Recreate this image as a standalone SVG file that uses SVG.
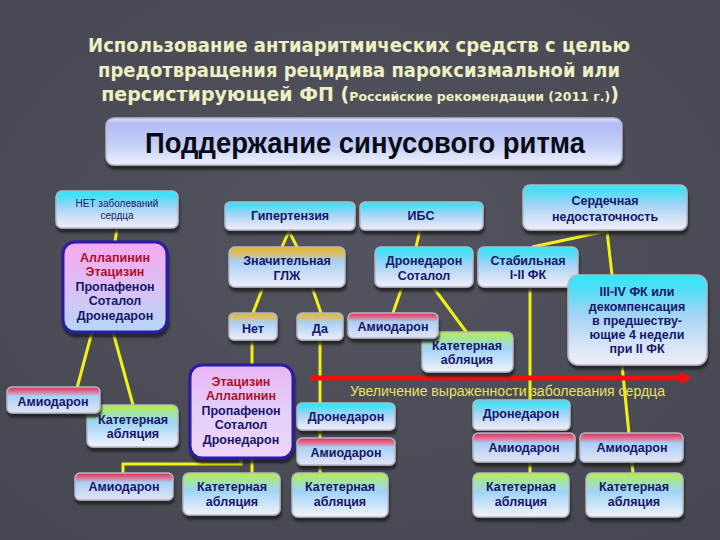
<svg xmlns="http://www.w3.org/2000/svg" width="720" height="540" viewBox="0 0 720 540">
<defs>
<radialGradient id="bg" cx="0.5" cy="0.45" r="0.75">
<stop offset="0" stop-color="#52545f"/>
<stop offset="1" stop-color="#45464f"/>
</radialGradient>
<linearGradient id="gMain" x1="0" y1="0" x2="0" y2="1">
<stop offset="0" stop-color="#dce2fc"/>
<stop offset="0.12" stop-color="#b2bcf4"/>
<stop offset="0.6" stop-color="#c6d0f8"/>
<stop offset="1" stop-color="#eef2fc"/>
</linearGradient>
<linearGradient id="gCyan" x1="0" y1="0" x2="0" y2="1">
<stop offset="0" stop-color="#30e6f8"/>
<stop offset="0.15" stop-color="#50def6"/>
<stop offset="0.45" stop-color="#a4d4f4"/>
<stop offset="0.8" stop-color="#dae4f6"/>
<stop offset="1" stop-color="#eeeefa"/>
</linearGradient>
<linearGradient id="gOrange" x1="0" y1="0" x2="0" y2="1">
<stop offset="0" stop-color="#e8b434"/>
<stop offset="0.18" stop-color="#d8c070"/>
<stop offset="0.35" stop-color="#a8d0f4"/>
<stop offset="0.8" stop-color="#dae4f6"/>
<stop offset="1" stop-color="#eeeefa"/>
</linearGradient>
<linearGradient id="gRed" x1="0" y1="0" x2="0" y2="1">
<stop offset="0" stop-color="#e02c5c"/>
<stop offset="0.18" stop-color="#e07090"/>
<stop offset="0.35" stop-color="#a8d0f6"/>
<stop offset="1" stop-color="#e4e4f4"/>
</linearGradient>
<linearGradient id="gGreen" x1="0" y1="0" x2="0" y2="1">
<stop offset="0" stop-color="#b8f040"/>
<stop offset="0.18" stop-color="#a4e49c"/>
<stop offset="0.42" stop-color="#a0d4f6"/>
<stop offset="1" stop-color="#f2f2fa"/>
</linearGradient>
<linearGradient id="gPurple" x1="0" y1="0" x2="0" y2="1">
<stop offset="0" stop-color="#f6a8ee"/>
<stop offset="0.5" stop-color="#dcc0f4"/>
<stop offset="1" stop-color="#b4d6f8"/>
</linearGradient>
<linearGradient id="gPurple2" x1="0" y1="0" x2="0" y2="1">
<stop offset="0" stop-color="#e8b4f4"/>
<stop offset="0.5" stop-color="#e4d0f8"/>
<stop offset="1" stop-color="#f0d4f8"/>
</linearGradient>
<filter id="sh" x="-10%" y="-10%" width="120%" height="140%">
<feDropShadow dx="1" dy="4" stdDeviation="1" flood-color="#1c1d24" flood-opacity="0.85"/>
</filter>
<marker id="arr" viewBox="0 0 10 10" refX="2" refY="5" markerWidth="3.4" markerHeight="2.6" orient="auto" markerUnits="strokeWidth">
<path d="M0,0 L10,5 L0,10 z" fill="#f01010"/>
</marker>
</defs>
<style>
.title{font-family:"DejaVu Sans","Liberation Sans",sans-serif;font-weight:bold;fill:#efefc4;font-size:19px}
.box{stroke:#b4b8c8;stroke-width:1.5;filter:url(#sh)}
.pbox{stroke:#2a1aa8;stroke-width:3;filter:url(#sh)}
.t{font-family:"Liberation Sans",Arial,sans-serif;font-weight:bold;font-size:12.5px;fill:#16166c;text-anchor:middle}
.tr{fill:#b0102c}
.small{font-family:"Liberation Sans",Arial,sans-serif;font-size:10px;fill:#16166c;text-anchor:middle}
.con{fill:none;stroke:#f2f014;stroke-width:3}
</style>
<rect width="720" height="540" fill="url(#bg)"/>

<g id="title">
<text class="title" x="88" y="52" textLength="542" lengthAdjust="spacingAndGlyphs">Использование антиаритмических средств с целью</text>
<text class="title" x="98" y="77" textLength="522" lengthAdjust="spacingAndGlyphs">предотвращения рецидива пароксизмальной или</text>
<text class="title" x="360" y="101" text-anchor="middle">персистирующей ФП (<tspan font-size="12.5">Российские рекомендации (2011 г.)</tspan>)</text>
</g>

<g id="connectors">
<path class="con" d="M117,228 L115,242"/>
<path class="con" d="M92,332 L77,388"/>
<path class="con" d="M113,332 L133,405"/>
<path class="con" d="M282,247 L289,231 L297,247"/>
<path class="con" d="M263,287 L253,313"/>
<path class="con" d="M312,287 L321,313"/>
<path class="con" d="M420,230 L416,247"/>
<path class="con" d="M402,287 L393,313"/>
<path class="con" d="M433,287 L467,333"/>
<path class="con" d="M607,231 L532,247"/>
<path class="con" d="M607,231 L612,275"/>
<path class="con" d="M530,287 L530,473"/>
<path class="con" d="M622,365 L633,473"/>
<path class="con" d="M252,340 L252,365"/>
<path class="con" d="M320,340 L320,473"/>
<path class="con" d="M241,458 L241,464 L123,464 L123,473"/>
<path class="con" d="M252,458 L252,473"/>
</g>

<g id="severity-arrow">
<line x1="310" y1="378" x2="682" y2="378" stroke="#f01010" stroke-width="5" marker-end="url(#arr)"/>
<text x="350" y="396" font-family="'Liberation Sans',Arial,sans-serif" font-size="14" fill="#e6e45c" textLength="315" lengthAdjust="spacingAndGlyphs">Увеличение выраженности заболевания сердца</text>
</g>

<g id="main">
<rect class="box" x="106" y="118" width="516" height="47" rx="8" fill="url(#gMain)"/>
<text x="145" y="153" font-family="'Liberation Sans',Arial,sans-serif" font-weight="bold" font-size="29" fill="#0a0a14" textLength="440" lengthAdjust="spacingAndGlyphs">Поддержание синусового ритма</text>
</g>

<g id="no-disease">
<rect class="box" x="56" y="191" width="122" height="37" rx="6" fill="url(#gCyan)"/>
<text class="small" x="117" y="207">НЕТ заболеваний</text>
<text class="small" x="117" y="219">сердца</text>
</g>

<g id="drugs1">
<rect class="pbox" x="63" y="242" width="104" height="90" rx="12" fill="url(#gPurple)"/>
<text class="t tr" x="115" y="262">Аллапинин</text>
<text class="t tr" x="115" y="276">Этацизин</text>
<text class="t" x="115" y="291">Пропафенон</text>
<text class="t" x="115" y="305">Соталол</text>
<text class="t" x="115" y="320">Дронедарон</text>
</g>

<g id="hypertension">
<rect class="box" x="225" y="202" width="130" height="28" rx="5" fill="url(#gCyan)"/>
<text class="t" x="290" y="220">Гипертензия</text>
</g>

<g id="ibs">
<rect class="box" x="360" y="202" width="123" height="28" rx="5" fill="url(#gCyan)"/>
<text class="t" x="421" y="220">ИБС</text>
</g>

<g id="heart-failure">
<rect class="box" x="523" y="185" width="164" height="45" rx="7" fill="url(#gCyan)"/>
<text class="t" x="605" y="205">Сердечная</text>
<text class="t" x="605" y="221">недостаточность</text>
</g>

<g id="lvh">
<rect class="box" x="229" y="247" width="116" height="40" rx="6" fill="url(#gOrange)"/>
<text class="t" x="287" y="265">Значительная</text>
<text class="t" x="287" y="280">ГЛЖ</text>
</g>

<g id="dron-sot">
<rect class="box" x="375" y="247" width="98" height="40" rx="6" fill="url(#gCyan)"/>
<text class="t" x="424" y="265">Дронедарон</text>
<text class="t" x="424" y="280">Соталол</text>
</g>

<g id="stable">
<rect class="box" x="478" y="247" width="100" height="40" rx="6" fill="url(#gCyan)"/>
<text class="t" x="528" y="265">Стабильная</text>
<text class="t" x="528" y="279">I-II ФК</text>
</g>

<g id="fc34">
<rect class="box" x="568" y="275" width="139" height="90" rx="10" fill="url(#gCyan)"/>
<text class="t" x="637" y="296">III-IV ФК или</text>
<text class="t" x="637" y="311">декомпенсация</text>
<text class="t" x="637" y="325">в предшеству-</text>
<text class="t" x="637" y="339">ющие 4 недели</text>
<text class="t" x="637" y="353">при II ФК</text>
</g>

<g id="no">
<rect class="box" x="229" y="313" width="48" height="27" rx="5" fill="url(#gOrange)"/>
<text class="t" x="253" y="333">Нет</text>
</g>

<g id="yes">
<rect class="box" x="297" y="313" width="46" height="27" rx="5" fill="url(#gOrange)"/>
<text class="t" x="320" y="333">Да</text>
</g>

<g id="ablation-ibs">
<rect class="box" x="422" y="332" width="91" height="40" rx="6" fill="url(#gGreen)"/>
<text class="t" x="467" y="350">Катетерная</text>
<text class="t" x="467" y="364">абляция</text>
</g>

<g id="amio-ibs">
<rect class="box" x="348" y="313" width="90" height="25" rx="5" fill="url(#gRed)"/>
<text class="t" x="393" y="331">Амиодарон</text>
</g>

<g id="ablation-left">
<rect class="box" x="87" y="405" width="91" height="42" rx="6" fill="url(#gGreen)"/>
<text class="t" x="133" y="424">Катетерная</text>
<text class="t" x="133" y="438">абляция</text>
</g>

<g id="amio-left">
<rect class="box" x="7" y="387" width="93" height="26" rx="5" fill="url(#gRed)"/>
<text class="t" x="53" y="406">Амиодарон</text>
</g>

<g id="drugs2">
<rect class="pbox" x="190" y="365" width="103" height="93" rx="12" fill="url(#gPurple2)"/>
<text class="t tr" x="241" y="386">Этацизин</text>
<text class="t tr" x="241" y="400">Аллапинин</text>
<text class="t" x="241" y="415">Пропафенон</text>
<text class="t" x="241" y="429">Соталол</text>
<text class="t" x="241" y="444">Дронедарон</text>
</g>

<g id="amio-bottom-left">
<rect class="box" x="75" y="473" width="98" height="27" rx="5" fill="url(#gRed)"/>
<text class="t" x="124" y="491">Амиодарон</text>
</g>

<g id="ablation-bottom-1">
<rect class="box" x="183" y="473" width="97" height="42" rx="6" fill="url(#gGreen)"/>
<text class="t" x="232" y="491">Катетерная</text>
<text class="t" x="232" y="506">абляция</text>
</g>

<g id="dron-lvh">
<rect class="box" x="297" y="403" width="98" height="27" rx="5" fill="url(#gCyan)"/>
<text class="t" x="346" y="421">Дронедарон</text>
</g>

<g id="amio-lvh">
<rect class="box" x="297" y="438" width="98" height="27" rx="5" fill="url(#gRed)"/>
<text class="t" x="346" y="457">Амиодарон</text>
</g>

<g id="ablation-bottom-2">
<rect class="box" x="292" y="473" width="96" height="44" rx="6" fill="url(#gGreen)"/>
<text class="t" x="340" y="491">Катетерная</text>
<text class="t" x="340" y="506">абляция</text>
</g>

<g id="dron-stable">
<rect class="box" x="473" y="400" width="97" height="30" rx="5" fill="url(#gCyan)"/>
<text class="t" x="521" y="418">Дронедарон</text>
</g>

<g id="amio-stable">
<rect class="box" x="473" y="433" width="102" height="29" rx="5" fill="url(#gRed)"/>
<text class="t" x="524" y="452">Амиодарон</text>
</g>

<g id="amio-fc34">
<rect class="box" x="580" y="433" width="103" height="29" rx="5" fill="url(#gRed)"/>
<text class="t" x="632" y="452">Амиодарон</text>
</g>

<g id="ablation-bottom-3">
<rect class="box" x="473" y="473" width="96" height="44" rx="6" fill="url(#gGreen)"/>
<text class="t" x="521" y="491">Катетерная</text>
<text class="t" x="521" y="506">абляция</text>
</g>

<g id="ablation-bottom-4">
<rect class="box" x="586" y="473" width="97" height="44" rx="6" fill="url(#gGreen)"/>
<text class="t" x="634" y="491">Катетерная</text>
<text class="t" x="634" y="506">абляция</text>
</g>
</svg>
